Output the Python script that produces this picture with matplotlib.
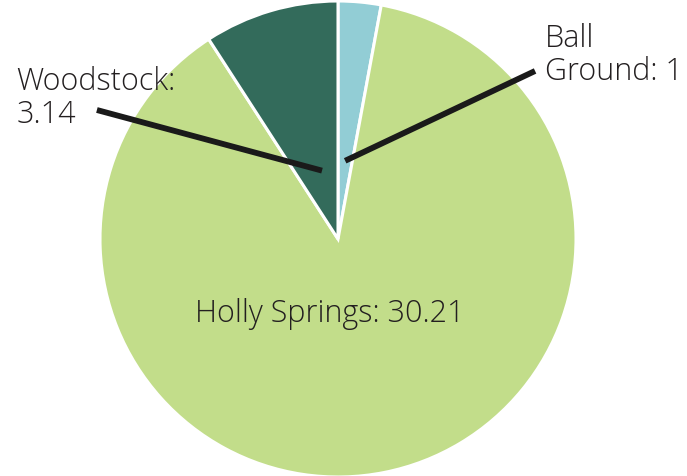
import matplotlib
matplotlib.use("Agg")
import matplotlib.pyplot as plt
import numpy as np

labels = ["Ball Ground", "Holly Springs", "Woodstock"]
values = [1, 30.21, 3.14]
colors = ["#92CDD5", "#C2DD8A", "#336B5B"]

W, H = 687, 477
cx, cy, R = 338, 240, 238

fig = plt.figure(figsize=(W / 100, H / 100), dpi=100)
ax = fig.add_axes([0, 0, 1, 1])

wedges, _ = ax.pie(values, colors=colors, startangle=90, counterclock=False,
                   radius=1.0, center=(0, 0), frame=True,
                   wedgeprops=dict(edgecolor="white", linewidth=2.2))
ax.set_xlim(-cx / R, (W - cx) / R)
ax.set_ylim(-(H - cy) / R, cy / R)
ax.axis("off")

tc = "#231F20"
fs = 22
fam = ["Open Sans", "DejaVu Sans"]
fw = 300

def mid(w, r, f=0.5):
    a = np.deg2rad(w.theta1 + f * (w.theta2 - w.theta1))
    return r * np.cos(a), r * np.sin(a)

# Ball Ground
p = mid(wedges[0], 0.33)
ax.plot([p[0], 0.828], [p[1], 0.706], color="#1a1a1a", lw=4.2, solid_capstyle="butt")
ax.text(0.87, 0.913, "Ball\nGround: 1", ha="left", va="top", fontsize=fs,
        color=tc, linespacing=1.07, family=fam, fontweight=fw)

# Woodstock
p = mid(wedges[2], 0.295, 0.4)
ax.plot([p[0], -1.013], [p[1], 0.542], color="#1a1a1a", lw=4.2, solid_capstyle="butt")
ax.text(-1.35, 0.732, "Woodstock:\n3.14", ha="left", va="top", fontsize=fs,
        color=tc, linespacing=1.07, family=fam, fontweight=fw)

# Holly Springs
ax.text(-0.035, -0.31, "Holly Springs: 30.21", ha="center", va="center",
        fontsize=fs, color=tc, family=fam, fontweight=fw)

fig.savefig("out.png", dpi=100)
